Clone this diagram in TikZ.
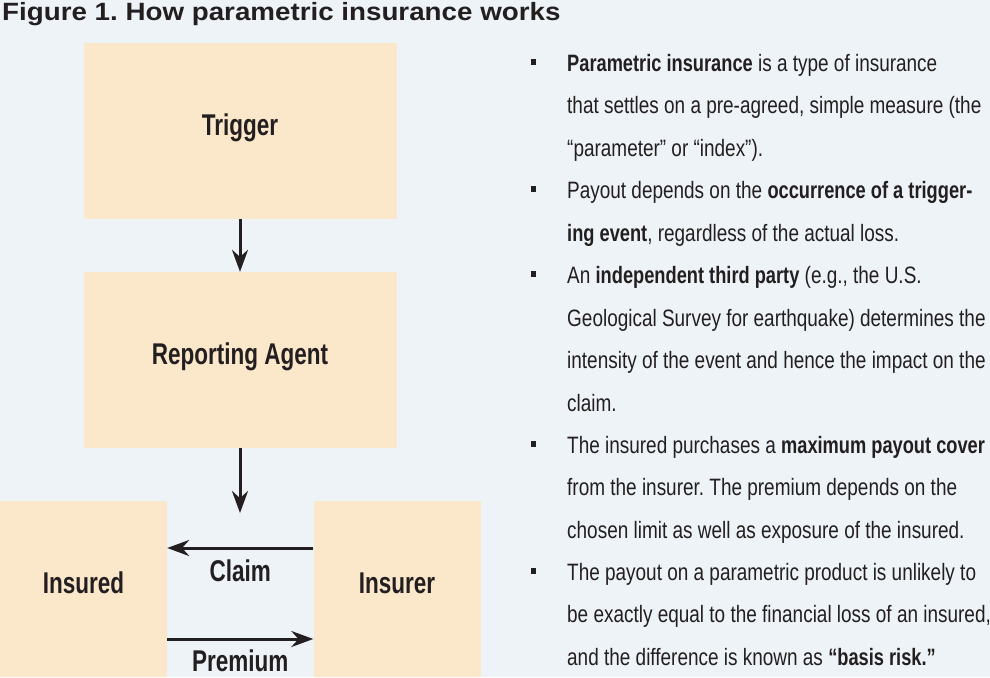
\documentclass[tikz,border=0pt]{standalone}
\usepackage{fontspec}
\setmainfont{Liberation Sans}
\newfontfamily\bodyfont{Liberation Sans}[FakeStretch=0.8,BoldFeatures={FakeStretch=0.77}]
\newfontfamily\labelfont{Liberation Sans}[FakeStretch=0.75]
\newfontfamily\titlefont{Liberation Sans}[FakeStretch=1.11]
\usetikzlibrary{arrows.meta,positioning}
\definecolor{paper}{HTML}{EEF3F7}
\definecolor{peach}{HTML}{FBE8CB}
\definecolor{ink}{HTML}{231F20}
\frenchspacing
\tikzset{
    box/.style={fill=peach,minimum width=313pt,minimum height=176pt,inner sep=0pt,
        text height=22pt,text depth=14pt,text=ink,font=\labelfont\bfseries\fontsize{30}{36}\selectfont},
    sidebox/.style={box,minimum width=167pt},
    flow/.style={draw=ink,line width=3pt,-{Stealth[length=22pt,width=16pt]}},
    flowlabel/.style={inner sep=0pt,text=ink,font=\labelfont\bfseries\fontsize{30}{36}\selectfont},
    point/.style={anchor=base west,align=left,inner sep=0pt,text=ink,
        font=\bodyfont\fontsize{23.7}{42.4}\selectfont},
    bulletmark/.style={fill=ink,minimum width=5pt,minimum height=6pt,inner sep=0pt}
}
\begin{document}
\begin{tikzpicture}[x=1pt,y=-1pt]
    \fill[paper] (0,0) rectangle (990,677);
    \useasboundingbox (0,0) rectangle (990,677);
    \node[anchor=base west,inner sep=0pt,text=ink,font=\titlefont\bfseries\fontsize{25}{30}\selectfont]
        (title) at (2,21) {Figure 1. How parametric insurance works};
    % flow chart
    \node[box] (trigger) at (240,131) {Trigger};
    \node[box] (agent) at (240,360) {Reporting Agent};
    \node[sidebox] (insured) at (83.5,589) {Insured};
    \node[sidebox] (insurer) at (397,589) {Insurer};
    \coordinate (drop) at (240,513);
    \draw[flow] (trigger) -- (agent);
    \draw[flow] (agent) -- (drop);
    \draw[flow] ([yshift=41pt]insurer.west) -- ([yshift=41pt]insured.east)
        node[midway,below=10pt,flowlabel] (claim) {Claim};
    \draw[flow] ([yshift=-50pt]insured.east) -- ([yshift=-50pt]insurer.west)
        node[midway,below=9pt,flowlabel] (premium) {Premium};
    % bullet points (base = last line)
    \node[point] (b1) at (567,156) {\textbf{Parametric insurance} is a type of insurance\\
        that settles on a pre-agreed, simple measure (the\\
        “parameter” or “index”).};
    \node[point] (b2) at (567,241) {Payout depends on the \textbf{occurrence of a trigger-}\\
        \textbf{ing event}, regardless of the actual loss.};
    \node[point] (b3) at (567,411) {An \textbf{independent third party} (e.g., the U.S.\\
        Geological Survey for earthquake) determines the\\
        intensity of the event and hence the impact on the\\
        claim.};
    \node[point] (b4) at (567,538) {The insured purchases a \textbf{maximum payout cover}\\
        from the insurer. The premium depends on the\\
        chosen limit as well as exposure of the insured.};
    \node[point] (b5) at (567,665) {The payout on a parametric product is unlikely to\\
        be exactly equal to the financial loss of an insured,\\
        and the difference is known as \textbf{“basis risk.”}};
    \foreach \b/\n in {b1/2,b2/1,b3/3,b4/2,b5/2}
        \node[bulletmark] at ([shift={(-34pt,9.5pt+42.4pt*\n)}]\b.base west) {};
\end{tikzpicture}
\end{document}
